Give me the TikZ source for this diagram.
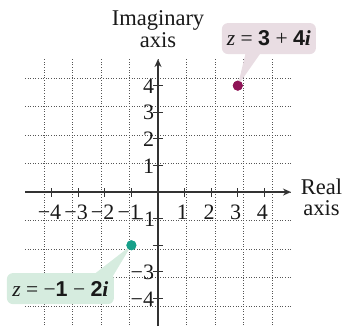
\documentclass[tikz,border=0pt]{standalone}
\usepackage{fontspec}
\setmainfont{Liberation Serif}
\setsansfont{Liberation Sans}
\definecolor{axisgray}{HTML}{333333}
\definecolor{gridgray}{HTML}{555555}
\definecolor{pinkbox}{HTML}{E9DDE3}
\definecolor{purpledot}{HTML}{8E1356}
\definecolor{greenbox}{HTML}{D6ECDF}
\definecolor{tealdot}{HTML}{17A08A}
\usetikzlibrary{arrows.meta}
\begin{document}
\begin{tikzpicture}[x=26.6pt,y=26.6pt,
  gridline/.style={gridgray,dotted,line width=0.6pt},
  axisline/.style={axisgray,line width=1.2pt},
  ticklbl/.style={font=\fontsize{22}{22}\selectfont,inner sep=0pt,text=black!90},
  axislbl/.style={font=\fontsize{22.5}{21.5}\selectfont,align=center,inner sep=0pt,text=black!90},
  callout/.style={rounded corners=6pt,minimum height=31pt,inner sep=0pt,font=\fontsize{21.5}{21.5}\selectfont,text=black!90},
  ptdot/.style={circle,inner sep=0pt,minimum size=10pt}]
\useasboundingbox (-5.94,-5.04) rectangle (7.03,7.22);
% grid
\draw[gridline] (-5,-5) grid (5,5);
% axes
\draw[axisline,-{Stealth[length=8pt,width=7pt]}] (-5,0) -- (5,0);
\draw[axisline,-{Stealth[length=8pt,width=7pt]}] (0,-5.04) -- (0,5);
% ticks and labels
\foreach \v/\t in {-4/−4,-3/−3,-2/−2,-1/−1,1/1,2/2,3/3,4/4}{
  \draw[axisline,line width=1pt] (\v,-0.17) -- (\v,0.17);
  \node[ticklbl] (xl\v) at (\v-0.08,-0.76) {\t};
}
\foreach \v/\t in {-4/−4,-3/−3,1/1,2/2,3/3,4/4}{
  \draw[axisline,line width=1pt] (-0.17,\v) -- (0.17,\v);
  \node[ticklbl,anchor=east] (yl\v) at (-0.14,\v-0.02) {\t};
}
\foreach \v in {-2,-1}{
  \draw[axisline,line width=1pt] (-0.17,\v) -- (0.17,\v);
}
\node[ticklbl,anchor=east] (yl-1) at (-0.1,-1.04) {−1};
% axis labels
\node[axislbl] (imlbl) at (0,6.13) {Imaginary\\axis};
\node[axislbl] (relbl) at (6.15,-0.2) {Real\\axis};
% points
\node[ptdot,fill=purpledot] (pA) at (3,4) {};
\node[ptdot,fill=tealdot] (pB) at (-1,-2) {};
% callout boxes
\node[callout,fill=pinkbox,minimum width=94pt] (boxA) at (4.17,5.77)
  {\itshape z\upshape\ = {\sffamily\bfseries 3} + {\sffamily\bfseries 4}\textbf{\textit{i}}};
\node[callout,fill=greenbox,minimum width=107pt] (boxB) at (-3.67,-3.63)
  {\itshape z\upshape\ = −{\sffamily\bfseries 1} − {\sffamily\bfseries 2}\textbf{\textit{i}}};
% pointers
\coordinate (a1) at (3.31,5.3);
\coordinate (a2) at (3.91,5.3);
\coordinate (b1) at (-2.48,-3.15);
\coordinate (b2) at (-1.69,-3.15);
\fill[pinkbox] (a1) -- (a2) -- (pA.center) -- cycle;
\fill[greenbox] (b1) -- (b2) -- (pB.center) -- cycle;
\node[ptdot,fill=purpledot] (pA2) at (pA) {};
\node[ptdot,fill=tealdot] (pB2) at (pB) {};
\end{tikzpicture}
\end{document}
